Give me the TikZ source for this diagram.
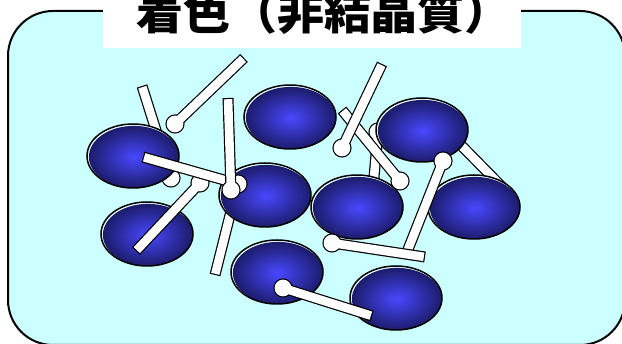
\documentclass[tikz,border=0pt]{standalone}
\usepackage{fontspec}
\usepackage{tikz}
\newfontfamily\cjk{Noto Sans CJK JP}
\definecolor{bgcyan}{HTML}{CCFFFF}
\definecolor{blobcore}{HTML}{4848FF}
\definecolor{blobrim}{HTML}{1C1C6C}
\definecolor{blobglint}{HTML}{E8FFFF}
\tikzset{
  panel/.style={draw=black, line width=2pt, fill=bgcyan, rounded corners=45pt},
  titletext/.style={font=\cjk\bfseries\fontsize{47}{47}\selectfont,
                    inner sep=0pt, anchor=base},
  blobedge/.style={draw=black, line width=1.5pt},
  blobshade/.style={inner color=blobcore, outer color=blobrim},
  stickedge/.style={draw=black, line width=11pt},
  stickfill/.style={draw=white, line width=8.6pt},
}
% rod with two square ends
\newcommand{\rod}[2]{%
  \draw[stickedge] #1 -- #2;
  \draw[stickfill, shorten <=1.2pt, shorten >=1.2pt] #1 -- #2;}
% rod with a ball at the second end
\newcommand{\lolly}[2]{%
  \draw[stickedge] #1 -- #2;
  \fill[black] #2 circle (9.6);
  \draw[stickfill, shorten <=1.2pt] #1 -- #2;
  \fill[white] #2 circle (8.4);}
% one dye particle
\newcommand{\blob}[1]{%
  \fill[blobglint] #1 ellipse (46 and 32);
  \shade[blobshade, shift={(0.9,0.9)}] #1 ellipse (45 and 31);
  \draw[blobedge] #1 ellipse (46 and 32);}

\begin{document}
\begin{tikzpicture}[x=1pt, y=-1pt]
  \fill[white] (0,0) rectangle (622,344);
  \useasboundingbox (0,0) rectangle (622,344);

  % --- panel and title ---
  \draw[panel] (8,11) rectangle (625,345);
  \fill[white] (103,-5) rectangle (521,48);
  \node[titletext] (title) at (324,30) {着色（非結晶質）};

  % --- rods lying under the particles ---
  \lolly{(142,86)}{(171,178)}
  \rod{(235,195)}{(215,275)}
  \lolly{(372,200)}{(378,132)}
  \rod{(450,134)}{(505,190)}

  % --- particles ---
  \blob{(133,156)}
  \blob{(290,117)}
  \blob{(147,234)}
  \blob{(265,195)}
  \blob{(277,272)}
  \blob{(422,130)}
  \blob{(357,207)}
  \blob{(474,207)}
  \blob{(396,298)}

  % --- rods lying on top ---
  \lolly{(244,58)}{(175,124)}
  \lolly{(136,251)}{(200,183)}
  \lolly{(143,157)}{(238,184)}
  \lolly{(228,98)}{(231,190)}
  \lolly{(342,110)}{(400,181)}
  \lolly{(382,64)}{(342,148)}
  \lolly{(407,252)}{(443,161)}
  \lolly{(425,257)}{(332,243)}
  \lolly{(372,316)}{(283,288)}
\end{tikzpicture}
\end{document}
